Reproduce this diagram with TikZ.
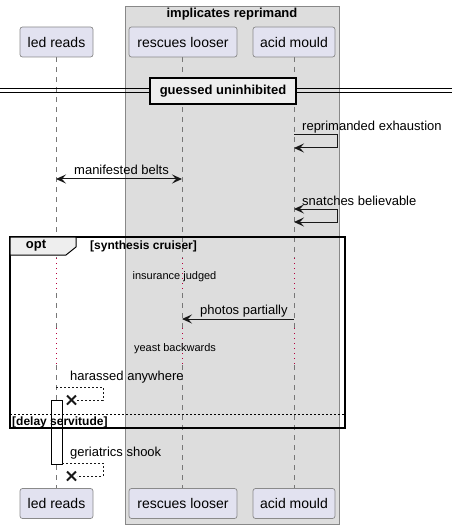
\documentclass[tikz,border=0pt]{standalone}
\usepackage{fontspec}
\setmainfont{Liberation Sans}
\usetikzlibrary{arrows.meta}
\definecolor{partfill}{HTML}{E2E2F0}
\definecolor{partdraw}{HTML}{8A8A8A}
\definecolor{grpfill}{HTML}{DDDDDD}
\definecolor{grpdraw}{HTML}{888888}
\definecolor{tabfill}{HTML}{EEEEEE}
\definecolor{lifecol}{HTML}{777777}
\definecolor{delayred}{HTML}{B5003C}
\definecolor{msgcol}{HTML}{181818}
\tikzset{
  part/.style={draw=partdraw, fill=partfill, rounded corners=2.5pt, minimum height=30pt, inner sep=0pt, line width=0.7pt, font=\fontsize{14}{16}\selectfont},
  life/.style={draw=lifecol, dash pattern=on 5pt off 5pt, line width=0.6pt},
  delayline/.style={draw=delayred, dash pattern=on 1pt off 4pt, line width=0.9pt},
  msg/.style={draw=msgcol, line width=1pt},
  retmsg/.style={draw=msgcol, line width=0.8pt, dash pattern=on 2pt off 2pt},
  tip/.style={-{Stealth[length=10pt,width=9pt,inset=4pt]}},
  bitip/.style={{Stealth[length=10pt,width=9pt,inset=4pt]}-{Stealth[length=10pt,width=9pt,inset=4pt]}},
  mtext/.style={font=\fontsize{13}{15}\selectfont, inner sep=0pt, anchor=west},
  smalltext/.style={font=\fontsize{11}{13}\selectfont, inner sep=0pt},
  condtext/.style={font=\fontsize{12}{14}\selectfont\bfseries, inner sep=0pt, anchor=west},
  destroy/.style={draw=msgcol, line width=2pt},
}
\begin{document}
\begin{tikzpicture}[x=1pt,y=-1pt]
\useasboundingbox (0,0) rectangle (452,529);
% group box
\path[fill=grpfill, draw=grpdraw, line width=0.8pt] (125,6) rectangle (339,524);
\node[font=\fontsize{13}{15}\selectfont\bfseries, inner sep=0pt] (grptitle) at (232,14) {implicates reprimand};

% lifelines
\foreach \x/\n in {56/a,182/b,294/c}{
  \draw[life] (\x,57) -- (\x,258);
  \draw[delayline] (\x,258) -- (\x,293);
  \draw[life] (\x,293) -- (\x,328);
  \draw[delayline] (\x,328) -- (\x,365);
  \draw[life] (\x,365) -- (\x,488);
}

% participants
\node[part, minimum width=73pt] (ledT) at (56.5,42) {led reads};
\node[part, minimum width=108pt] (resT) at (183,42) {rescues looser};
\node[part, minimum width=82pt] (acdT) at (294,42) {acid mould};
\node[part, minimum width=73pt] (ledB) at (56.5,503.5) {led reads};
\node[part, minimum width=108pt] (resB) at (183,503.5) {rescues looser};
\node[part, minimum width=82pt] (acdB) at (294,503.5) {acid mould};

% divider
\coordinate (dl) at (0,90);
\coordinate (dr) at (452,90);
\draw[line width=0.8pt] ([yshift=-2pt]dl) -- ([yshift=-2pt]dr);
\draw[line width=0.8pt] ([yshift=2pt]dl) -- ([yshift=2pt]dr);
\node[draw=black, fill=tabfill, line width=1.6pt, minimum width=146pt, minimum height=26pt, inner sep=0pt, font=\fontsize{13}{15}\selectfont\bfseries] (div) at (223,91) {guessed uninhibited};

% reprimanded exhaustion
\coordinate (re1) at (294,135);
\coordinate (re2) at (337,135);
\coordinate (re3) at (337,148);
\coordinate (re4) at (294,148);
\draw[msg, tip] (re1) -- (re2) -- (re3) -- (re4);
\node[mtext] (retext) at (302,127) {reprimanded exhaustion};

% manifested belts
\coordinate (mb1) at (56,179);
\coordinate (mb2) at (182,179);
\draw[msg, bitip] (mb1) -- (mb2);
\node[mtext] (mbtext) at (74,170) {manifested belts};

% snatches believable
\coordinate (sb1) at (294,209);
\coordinate (sb2) at (337,209);
\coordinate (sb3) at (337,222);
\coordinate (sb4) at (294,222);
\draw[msg, bitip] (sb1) -- (sb2) -- (sb3) -- (sb4);
\node[mtext] (sbtext) at (302,201) {snatches believable};

% delays
\node[smalltext] (delay1) at (174.5,277) {insurance judged};
\node[smalltext] (delay2) at (175,349) {yeast backwards};

% photos partially
\coordinate (pp1) at (294,319);
\coordinate (pp2) at (182,319);
\draw[msg, tip] (pp1) -- (pp2);
\node[mtext] (pptext) at (200,311) {photos partially};

% harassed anywhere
\coordinate (ha1) at (56,387);
\coordinate (ha2) at (103,387);
\coordinate (ha3) at (103,400);
\coordinate (ha4) at (77,400);
\draw[retmsg] (ha1) -- (ha2) -- (ha3) -- (ha4);
\coordinate (x1) at (71.5,400);
\draw[destroy] ([shift={(-4.5,-4.5)}]x1) -- ([shift={(4.5,4.5)}]x1);
\draw[destroy] ([shift={(-4.5,4.5)}]x1) -- ([shift={(4.5,-4.5)}]x1);
\node[mtext] (hatext) at (70,377) {harassed anywhere};

% activation bar
\node[draw=black, fill=white, line width=0.8pt, minimum width=11pt, minimum height=64pt, inner sep=0pt] (act) at (56.5,432) {};

% opt frame
\draw[line width=1.6pt] (10,237) rectangle (345,428);
\draw[fill=tabfill, line width=1pt] (10,237) -- (76,237) -- (76,247) -- (66,255) -- (10,255) -- cycle;
\node[font=\fontsize{13}{15}\selectfont\bfseries, inner sep=0pt] (optlbl) at (36,246) {opt};
\node[condtext] (cond1) at (90,246) {[synthesis cruiser]};
\draw[line width=0.8pt, dash pattern=on 2pt off 2pt] (10,414) -- (345,414);
\node[condtext] (cond2) at (12,422) {[delay servitude]};

% geriatrics shook
\coordinate (gs1) at (62,463);
\coordinate (gs2) at (103,463);
\coordinate (gs3) at (103,476);
\coordinate (gs4) at (77,476);
\draw[retmsg] (gs1) -- (gs2) -- (gs3) -- (gs4);
\coordinate (x2) at (71.5,476);
\draw[destroy] ([shift={(-4.5,-4.5)}]x2) -- ([shift={(4.5,4.5)}]x2);
\draw[destroy] ([shift={(-4.5,4.5)}]x2) -- ([shift={(4.5,-4.5)}]x2);
\node[mtext] (gstext) at (70,453) {geriatrics shook};
\end{tikzpicture}
\end{document}
